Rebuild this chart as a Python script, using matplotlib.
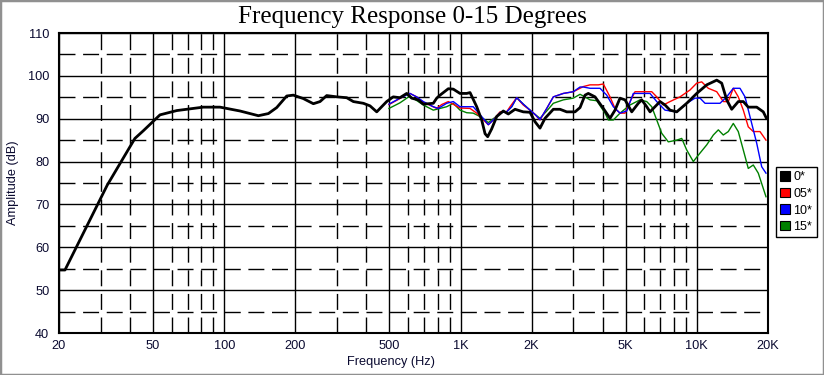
import matplotlib
matplotlib.use("Agg")
import matplotlib.pyplot as plt
from matplotlib.patches import Patch, Rectangle
from matplotlib.ticker import FixedLocator, NullFormatter, NullLocator

# ---- data ----
f_0 = [20, 21.2, 32.0, 41.9, 45.5, 53.5, 63.0, 74.0, 81.6, 96.0, 116.7, 139.5, 153.8, 166.8,
       183.9, 196.1, 216.2, 238.4, 254.4, 271.5, 299.3, 329.9, 352, 388, 414, 442, 487, 519,
       554, 592, 621, 662, 696, 767, 793, 819, 888, 932, 995, 1062, 1097, 1171, 1229, 1270,
       1303, 1354, 1423, 1517, 1593, 1701, 1843, 1968, 2066, 2169, 2278, 2470, 2636, 2814,
       3051, 3204, 3363, 3473, 3708, 4020, 4291, 4505, 4730, 4967, 5302, 5653, 5843, 6136,
       6337, 6652, 6984, 7334, 7699, 8220, 9059, 9987, 11010, 12137, 12738, 13375, 14041,
       14973, 15722, 16503, 17913, 19103, 19700]
db_0 = [54.7, 54.7, 74.5, 85.4, 87.2, 90.9, 91.9, 92.4, 92.7, 92.7, 91.8, 90.7, 91.2, 92.6,
        95.3, 95.5, 94.7, 93.5, 94.0, 95.4, 95.1, 94.9, 94.0, 93.6, 93.0, 91.6, 94.0, 95.1,
        94.9, 95.9, 94.8, 94.4, 93.4, 93.6, 94.8, 95.5, 97.0, 96.9, 95.9, 95.9, 96.1, 92.8,
        89.7, 86.5, 85.8, 87.6, 90.5, 91.8, 91.1, 92.2, 91.6, 91.5, 89.3, 87.8, 90.1, 92.2,
        92.2, 91.6, 91.6, 92.6, 95.5, 95.9, 95.1, 92.4, 90.1, 92.0, 94.8, 94.4, 91.6, 93.6,
        94.4, 92.8, 91.6, 92.8, 94.0, 93.2, 92.0, 91.6, 93.6, 95.9, 97.9, 99.0, 98.3, 94.4,
        92.2, 94.0, 94.0, 92.7, 92.7, 91.6, 90.1]

f_05 = [498, 554, 592, 611, 652, 696, 719, 793, 832, 888, 995, 1097, 1171, 1229, 1311, 1376,
        1469, 1568, 1620, 1729, 1843, 1968, 2066, 2169, 2316, 2470, 2723, 3001, 3308, 3532,
        3829, 4020, 4291, 4505, 4730, 4967, 5214, 5474, 6136, 6443, 6764, 7213, 7699, 8487,
        9355, 9987, 10485, 11181, 12137, 12939, 13584, 14262, 14973, 15722, 16503, 17328,
        18498, 19610]
db_05 = [93.3, 94.7, 95.7, 95.9, 95.1, 93.8, 93.5, 92.4, 93.3, 94.0, 92.5, 92.4, 91.3, 90.1,
         88.6, 89.7, 91.6, 91.6, 92.8, 94.9, 93.2, 92.0, 91.0, 89.7, 92.4, 95.1, 95.9, 96.3,
         97.5, 97.9, 97.9, 98.1, 95.1, 92.4, 91.3, 91.3, 94.0, 96.3, 96.3, 96.3, 95.1, 93.2,
         94.0, 95.1, 96.7, 98.3, 98.6, 97.1, 96.3, 94.0, 94.0, 97.1, 95.1, 92.0, 88.1, 87.0,
         87.0, 85.0]

f_10 = [498, 554, 611, 652, 696, 767, 805, 874, 932, 995, 1062, 1132, 1229, 1311, 1399, 1469,
        1568, 1647, 1729, 1843, 1968, 2066, 2169, 2316, 2470, 2723, 3001, 3204, 3308, 3532,
        3893, 4156, 4431, 4730, 5050, 5384, 6337, 6764, 7334, 8220, 9059, 9823, 10313, 10829,
        11742, 12529, 13375, 14262, 15224, 15985, 16778, 17913, 18807, 19610]
db_10 = [93.4, 94.8, 95.9, 95.1, 94.0, 92.8, 92.4, 93.6, 94.0, 92.8, 92.8, 92.8, 90.5, 88.6,
         90.1, 91.4, 91.6, 92.8, 94.9, 93.4, 92.0, 91.0, 89.8, 92.4, 95.1, 95.9, 96.3, 97.4,
         97.4, 97.1, 97.1, 95.5, 92.8, 91.3, 91.8, 95.9, 95.9, 94.0, 92.0, 91.6, 93.6, 94.8,
         94.8, 93.6, 93.6, 93.6, 95.1, 97.1, 97.1, 95.1, 90.5, 84.3, 78.8, 77.3]

f_15 = [498, 554, 611, 696, 767, 874, 932, 995, 1062, 1132, 1229, 1311, 1399, 1469, 1568, 1647,
        1729, 1843, 1968, 2066, 2169, 2316, 2470, 2723, 3001, 3204, 3308, 3532, 3770, 4088,
        4221, 4431, 4730, 5214, 5747, 6136, 6443, 6764, 7101, 7572, 8220, 8629, 9059, 9661,
        10144, 11010, 11742, 12327, 12939, 13584, 14262, 14973, 15722, 16503, 17328, 18193,
        19610]
db_15 = [92.4, 93.7, 95.3, 93.2, 92.0, 92.8, 93.6, 92.0, 91.4, 91.3, 90.3, 89.1, 90.3, 91.4,
         91.6, 92.8, 94.9, 93.4, 92.0, 91.0, 90.1, 91.8, 93.6, 94.4, 94.8, 95.7, 95.3, 94.4,
         94.2, 91.3, 89.7, 89.7, 91.3, 93.2, 94.4, 94.0, 92.8, 89.7, 86.6, 84.6, 85.0, 85.4,
         82.7, 80.0, 81.5, 83.9, 86.2, 87.4, 86.2, 87.0, 88.9, 87.0, 82.7, 78.4, 79.2, 77.3,
         71.8]

series_labels = ["0*", "05*", "10*", "15*"]
series_colors = ["#000000", "#ff0000", "#0000ff", "#008000"]

x_major = [20, 50, 100, 200, 500, 1000, 2000, 5000, 10000, 20000]
x_major_labels = ["20", "50", "100", "200", "500", "1K", "2K", "5K", "10K", "20K"]
x_minor = [30, 40, 60, 70, 80, 90, 300, 400, 600, 700, 800, 900,
           3000, 4000, 6000, 7000, 8000, 9000]
y_major = [40, 50, 60, 70, 80, 90, 100, 110]
y_minor = [45, 55, 65, 75, 85, 95, 105]

# ---- figure ----
W, H = 824, 375
fig = plt.figure(figsize=(W / 100, H / 100), dpi=100)
fig.patch.set_facecolor("white")
ax = fig.add_axes([59 / W, 1 - 333 / H, (768 - 59) / W, (333 - 33) / H])

ax.set_xscale("log")
ax.set_xlim(20, 20000)
ax.set_ylim(40, 110)

dash = (0, (11.5, 5.5))
for v in x_major:
    ax.axvline(v, color="black", lw=1.0, zorder=1)
for v in x_minor:
    ax.axvline(v, color="black", lw=1.0, ls=dash, zorder=1)
for v in y_major:
    ax.axhline(v, color="black", lw=1.0, zorder=1)
for v in y_minor:
    ax.axhline(v, color="black", lw=1.0, ls=dash, zorder=1)

ax.plot(f_15, db_15, color=series_colors[3], lw=1.0, zorder=3)
ax.plot(f_05, db_05, color=series_colors[1], lw=1.0, zorder=3)
ax.plot(f_10, db_10, color=series_colors[2], lw=1.0, zorder=3)
ax.plot(f_0, db_0, color=series_colors[0], lw=2.0, zorder=4)

lab_color = "#0a0a30"
ax.xaxis.set_major_locator(FixedLocator(x_major))
ax.set_xticklabels(x_major_labels)
ax.xaxis.set_minor_locator(NullLocator())
ax.xaxis.set_minor_formatter(NullFormatter())
ax.set_yticks(y_major)
ax.tick_params(axis="both", length=0, labelsize=9.2, labelcolor=lab_color)
ax.tick_params(axis="x", pad=5)
ax.tick_params(axis="y", pad=7)
for s in ax.spines.values():
    s.set_linewidth(1.5)
    s.set_color("black")

fig.text(412 / W, 1 - 17 / H, "Frequency Response 0-15 Degrees", ha="center", va="center",
         fontsize=18, family="Liberation Serif")
fig.text(391 / W, 1 - 362 / H, "Frequency (Hz)", ha="center", va="center", fontsize=9.2,
         family="Liberation Sans", color=lab_color)
fig.text(13 / W, 1 - 183 / H, "Amplitude (dB)", ha="center", va="center", fontsize=9.2,
         family="Liberation Sans", rotation=90, color=lab_color)
for t in ax.get_xticklabels() + ax.get_yticklabels():
    t.set_family("Liberation Sans")

handles = [Patch(facecolor=c, edgecolor="black", lw=0.8) for c in series_colors]
leg = fig.legend(handles, series_labels, loc="upper left",
                 bbox_to_anchor=(776 / W, 1 - 167 / H), frameon=True, fancybox=False,
                 edgecolor="black", framealpha=1, handlelength=0.8,
                 handleheight=0.8, handletextpad=0.25, labelspacing=0.35, borderpad=0.35,
                 borderaxespad=0, prop={"family": "Liberation Sans", "size": 9})
leg.get_frame().set_linewidth(1.0)

fig.patches.append(Rectangle((0, 0), 1, 1, transform=fig.transFigure, fill=False,
                             edgecolor="#909090", lw=2.5, zorder=10))

fig.savefig("out.png", dpi=100, facecolor="white")
